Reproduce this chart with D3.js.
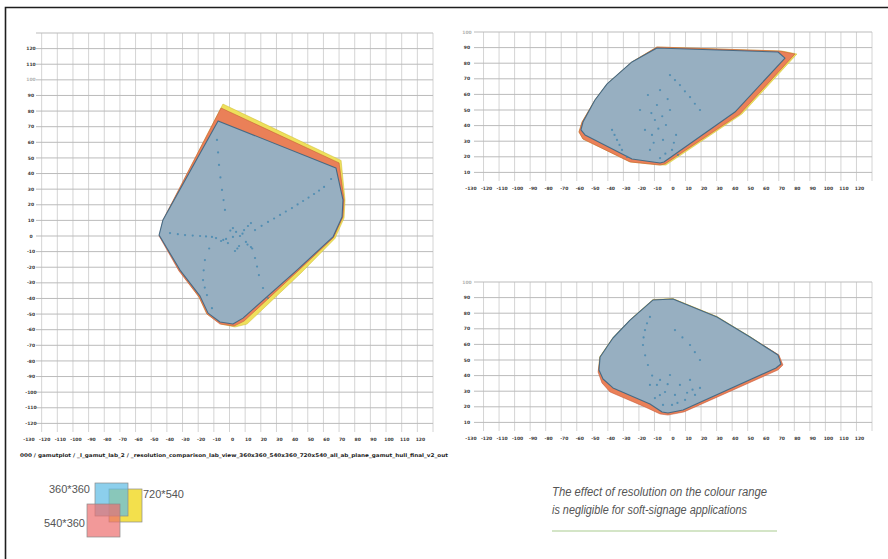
<!DOCTYPE html>
<html>
<head>
<meta charset="utf-8">
<script src="https://cdn.jsdelivr.net/npm/d3@7"></script>
<style>
  body { margin: 0; background: #fff; }
  svg { display: block; }
  .tick-label { font-family: "DejaVu Sans", sans-serif; font-size: 4.5px; font-weight: bold; fill: #3a3a3a; }
  .path-note { font-family: "DejaVu Sans", sans-serif; font-size: 5px; font-weight: bold; fill: #1a1a1a; }
  .legend-text { font-family: "Liberation Sans Narrow", "Liberation Sans", sans-serif; font-size: 11px; fill: #555; }
  .caption { font-family: "Liberation Sans", Arial, sans-serif; font-style: italic; font-size: 12.5px; fill: #555; }
</style>
</head>
<body>
<script>

// Data ////////////////////////////////////////

const abTicks = [-130, -120, -110, -100, -90, -80, -70, -60, -50, -40, -30, -20, -10, 0,
                 10, 20, 30, 40, 50, 60, 70, 80, 90, 100, 110, 120, 130];
const lTicks = [0, 10, 20, 30, 40, 50, 60, 70, 80, 90, 100];

const series = ["720*540", "540*360", "360*360"];

// a*b* view (left)
const abGamut720 = [[-4.2, 84.5], [71.3, 48.4], [73.8, 23.1], [73.2, 11.5], [67.4, -1.6], [45.7, -23.7], [11.2, -56.4],
    [3.5, -58.3], [-5.4, -56.4], [-14.4, -50], [-19.5, -39.1], [-32.3, -21.8], [-44.4, 0.6], [-41.9, 10.9]];
const abGamut540 = [[-5.4, 82], [70, 46.8], [73.2, 23.1], [72.5, 12.2], [66.5, -1], [43.8, -22.4], [9.3, -54.5],
    [2.9, -57.7], [-6.1, -56.4], [-14.4, -50], [-19.5, -39.1], [-32.3, -22.4], [-45, 0], [-42.5, 10.3]];
const abGamut360 = [[-7.3, 73.7], [68, 43.6], [72.5, 23.1], [71.9, 12.2], [66.1, -0.6], [43.1, -21.8], [8.6, -52.6],
    [2.2, -56.4], [-6.1, -55.1], [-13.7, -49.4], [-18.8, -38.5], [-31.6, -21.8], [-45, 0.6], [-42.5, 10.3]];
const abSamples = [[2.2, 5.1], [4.2, 2.6], [9.3, 3.8], [11.8, 6.4], [13.7, 8.3], [10.5, -3.8], [13.7, -7.1],
    [6.1, -6.4], [3.5, -9.6], [-2.2, -1.9], [-5.4, -3.2], [-8.6, -1.3], [2.2, -0.6], [6.7, 0], [-1, -4.5],
    [8.3, 1.5], [11.5, -5.5], [5, -8], [0.5, 3.5], [-4, -2.5],
    [16.3, 3.8], [20.5, 6.5], [24.6, 9], [28.5, 11.2], [32.3, 13.5], [36, 15.7], [39.9, 17.9], [43.5, 20.2],
    [47, 22.4], [50.5, 24.6], [54, 26.9], [57.2, 29.1], [60.4, 31.4], [64.9, 36.5],
    [-38, 1.9], [-33, 1.2], [-28.4, 0.6], [-23.5, 0.3], [-18.8, 0], [-15, -0.3], [-11.2, -0.6],
    [-2.9, 16.7], [-3.8, 23], [-4.8, 29.5], [-5.8, 37.5], [-6.7, 45.5], [-7.3, 53.5], [-8, 61.5],
    [-13, -8], [-15.7, -15.4], [-16.5, -22], [-16.9, -28.2], [-15.8, -33], [-14.4, -37.8], [-11.2, -46.2],
    [14.5, -8], [16.3, -14.1], [17.6, -19.6], [18.8, -25], [21.4, -33.3], [24.6, -39.7]];

// L*-b* view (top right)
const lbGamut720 = [[-8.4, 90.4], [72.1, 87.8], [81.7, 85.9], [46.3, 47.4], [-2.6, 14.7], [-6.4, 14.7],
    [-25.7, 16.7], [-56, 31.4], [-58.6, 35.9], [-56.6, 42.3], [-48.3, 56.4], [-40.5, 66.7], [-24.5, 80.8]];
const lbGamut540 = [[-8.4, 90.4], [70.8, 87.8], [80.4, 85.9], [45, 47.4], [-3.2, 15.4], [-6.4, 14.7],
    [-25.7, 16.7], [-56, 31.4], [-58.6, 35.9], [-56.6, 42.3], [-48.3, 56.4], [-40.5, 66.7], [-24.5, 80.8]];
const lbGamut360 = [[-8.4, 89.7], [69.5, 87.2], [74, 83.3], [41.8, 48.7], [-3.9, 16.7], [-6.4, 16],
    [-24.5, 18.6], [-54.7, 34], [-57.3, 37.2], [-56, 42.3], [-48.3, 56.4], [-40.5, 66.7], [-24.5, 80.8]];
const lbSamples = [[-12.9, 24.4], [-11.6, 34], [-9.7, 43.6], [-8.4, 53.2], [-6.4, 62.8], [-4.5, 30.8],
    [-2.6, 40.4], [0, 50], [1.3, 24.4], [3.9, 34], [-16.1, 37.2], [-19.3, 50], [-14.2, 59.6], [5.1, 21.2],
    [-6.4, 19.2], [-10.5, 29], [-7.5, 38], [-5, 46], [-1.5, 57], [2.5, 29], [-3, 22], [-12, 48],
    [0, 72.4], [3.2, 69.2], [6.4, 66], [9.6, 62], [12.9, 58.3], [16, 54], [19.3, 50],
    [-37.3, 37.2], [-35.7, 34], [-34.1, 30.8], [-32.5, 27.6], [-30.9, 24.4], [-27.7, 19.9]];

// L*-a* view (bottom right)
const laGamut720 = [[-10.9, 88.8], [1.9, 89.4], [30.2, 77.9], [51.5, 65], [69.8, 53.2], [72, 47.1], [68.8, 44.3],
    [8.6, 17.4], [-1.3, 15.4], [-5.8, 16], [-14.2, 21], [-37.6, 31], [-43.5, 36.5], [-46, 43], [-45.3, 51.9],
    [-36.9, 64.1], [-25.7, 75.8]];
const laGamut540 = [[-10.9, 88.5], [1.9, 89.1], [30.2, 77.6], [51.5, 64.7], [70.1, 53.2], [72.7, 46.8], [69.5, 43.6],
    [9, 16.7], [-1.3, 14.7], [-6.4, 15.4], [-16.1, 19.9], [-38.6, 29.5], [-43.8, 35.3], [-46.3, 42.3], [-45, 51.9],
    [-36.7, 64.1], [-25.7, 75.6]];
const laGamut360 = [[-10.9, 88.5], [1.9, 89.1], [30.2, 77.6], [51.5, 64.7], [69.5, 53.2], [71.4, 47.4], [68.2, 44.9],
    [8.4, 17.9], [-1.3, 16], [-5.1, 16.7], [-12.9, 21.8], [-36.7, 32.1], [-43.1, 37.8], [-45.7, 43.6], [-45, 51.9],
    [-36.7, 64.1], [-25.7, 75.6]];
const laSamples = [[-12.9, 77.6], [-14.8, 73.5], [-16.1, 69.2], [-17, 64.5], [-17.4, 59.6], [-16, 53], [-14.2, 46.8],
    [-11.5, 40], [-8.4, 34], [-6.5, 27.5], [-4.5, 21.2],
    [-6.4, 37.2], [-3.2, 29.5], [0, 40.4], [3.2, 27.6], [6.4, 34], [12.9, 37.2], [16.1, 27.6], [19.3, 32.1],
    [9.7, 24.4], [1.3, 21.2], [-9.7, 25.6], [-12.9, 34], [-1.5, 34.5], [4.8, 22.5], [14.5, 31], [11, 29],
    [3.2, 69.2], [8, 64.5], [12.9, 59.6], [16, 55], [19.3, 50]];

const captionLines = ["The effect of resolution on the colour range", "is negligible for soft-signage applications"];
const pathNote = "000 / gamutplot / _l_gamut_lab_2 / _resolution_comparison_lab_view_360x360_540x360_720x540_all_ab_plane_gamut_hull_final_v2_out";

// Styles ///////////////////////////////////////

const colors = {
    "720*540": { fill: "#eee05c", stroke: "#cdbb30", legend: "#f3e04c" },
    "540*360": { fill: "#ea8058", stroke: "#c0502f", legend: "#ec6d6d" },
    "360*360": { fill: "#97afc1", stroke: "#2b5e80", legend: "#5fbde4" }
};

const width = 888, height = 559;

const svg = d3.select("body").append("svg")
    .attr("width", width)
    .attr("height", height)
    .attr("viewBox", [0, 0, width, height]);

svg.append("rect").attr("width", width).attr("height", height).attr("fill", "#fff");

// Frame
svg.append("path")
    .attr("d", `M5.5,${height} V7.5 H${width}`)
    .attr("fill", "none")
    .attr("stroke", "#1e1e1e")
    .attr("stroke-width", 1.6);

// Panels ///////////////////////////////////////

drawPanel({
    xRange: [26, 433], yRange: [439, 33], yDomain: [-130, 130],
    yTicks: abTicks, yLabels: abTicks.slice(1, -1),
    yLabelX: 31, hStart: 36,
    gamuts: [abGamut720, abGamut540, abGamut360], samples: abSamples
});

drawPanel({
    xRange: [468, 872], yRange: [188, 32], yDomain: [0, 100],
    yTicks: lTicks, yLabels: lTicks.slice(1),
    yLabelX: 467, hStart: 474,
    gamuts: [lbGamut720, lbGamut540, lbGamut360], samples: lbSamples
});

drawPanel({
    xRange: [468, 872], yRange: [438, 282], yDomain: [0, 100],
    yTicks: lTicks, yLabels: lTicks.slice(1),
    yLabelX: 467, hStart: 474,
    gamuts: [laGamut720, laGamut540, laGamut360], samples: laSamples
});

function drawPanel(p) {

    const x = d3.scaleLinear().domain([-130, 130]).range(p.xRange);
    const y = d3.scaleLinear().domain(p.yDomain).range(p.yRange);
    const g = svg.append("g");

    // grid
    g.append("g")
        .selectAll("line")
        .data(abTicks.slice(1))
        .join("line")
        .attr("x1", d => x(d)).attr("x2", d => x(d))
        .attr("y1", p.yRange[1]).attr("y2", p.yRange[0] - 7)
        .attr("stroke", "#d4d4d4")
        .attr("stroke-width", 1);

    g.append("g")
        .selectAll("line")
        .data(p.yTicks.slice(1))
        .join("line")
        .attr("x1", p.hStart).attr("x2", p.xRange[1])
        .attr("y1", d => y(d)).attr("y2", d => y(d))
        .attr("stroke", "#bbbbbb")
        .attr("stroke-width", 1);

    // tick labels
    g.append("g")
        .selectAll("text")
        .data(p.yLabels)
        .join("text")
        .attr("class", "tick-label")
        .attr("x", p.yLabelX)
        .attr("y", d => y(d) + 1.6)
        .attr("text-anchor", "middle")
        .attr("opacity", d => d === 100 ? 0.4 : 1)
        .text(d => d);

    g.append("g")
        .selectAll("text")
        .data(abTicks.slice(0, -1))
        .join("text")
        .attr("class", "tick-label")
        .attr("x", d => x(d) + 3)
        .attr("y", p.yRange[0] + 1.6)
        .attr("text-anchor", "middle")
        .text(d => d);

    // gamut hulls
    const line = d3.line().x(d => x(d[0])).y(d => y(d[1])).curve(d3.curveLinearClosed);

    g.append("g")
        .selectAll("path")
        .data(p.gamuts)
        .join("path")
        .attr("d", line)
        .attr("fill", (d, i) => colors[series[i]].fill)
        .attr("stroke", (d, i) => colors[series[i]].stroke)
        .attr("stroke-width", (d, i) => i === 2 ? 1.1 : 0.7)
        .attr("stroke-linejoin", "round")
        .attr("stroke-opacity", (d, i) => i === 2 ? 0.8 : 0.7);

    // sample points
    g.append("g")
        .selectAll("circle")
        .data(p.samples)
        .join("circle")
        .attr("cx", d => x(d[0]))
        .attr("cy", d => y(d[1]))
        .attr("r", 1.1)
        .attr("fill", "#3580ad")
        .attr("opacity", 0.7);
}

// Path note under the left chart
svg.append("text")
    .attr("class", "path-note")
    .attr("x", 20)
    .attr("y", 457)
    .attr("textLength", 428)
    .attr("lengthAdjust", "spacingAndGlyphs")
    .text(pathNote);

// Legend ///////////////////////////////////////

const legendBoxes = [
    { key: "720*540", x: 109, y: 489, opacity: 1 },
    { key: "360*360", x: 95, y: 483, opacity: 0.72 },
    { key: "540*360", x: 87, y: 504, opacity: 0.7 }
];

svg.append("g")
    .selectAll("rect")
    .data(legendBoxes)
    .join("rect")
    .attr("x", d => d.x)
    .attr("y", d => d.y)
    .attr("width", 33)
    .attr("height", 33)
    .attr("fill", d => colors[d.key].legend)
    .attr("fill-opacity", d => d.opacity)
    .attr("stroke", "#8a8a8a")
    .attr("stroke-width", 0.7);

const legendLabels = [
    { key: "360*360", x: 90, y: 493, anchor: "end" },
    { key: "720*540", x: 143, y: 498, anchor: "start" },
    { key: "540*360", x: 85, y: 527, anchor: "end" }
];

svg.append("g")
    .selectAll("text")
    .data(legendLabels)
    .join("text")
    .attr("class", "legend-text")
    .attr("x", d => d.x)
    .attr("y", d => d.y)
    .attr("text-anchor", d => d.anchor)
    .text(d => d.key);

// Caption //////////////////////////////////////

svg.append("g")
    .selectAll("text")
    .data(captionLines)
    .join("text")
    .attr("class", "caption")
    .attr("x", 552)
    .attr("y", (d, i) => 496 + i * 18)
    .attr("textLength", (d, i) => i === 0 ? 215 : 195)
    .attr("lengthAdjust", "spacingAndGlyphs")
    .text(d => d);

svg.append("line")
    .attr("x1", 552).attr("x2", 777)
    .attr("y1", 531).attr("y2", 531)
    .attr("stroke", "#c6dcb4")
    .attr("stroke-width", 1.6);

</script>
</body>
</html>
